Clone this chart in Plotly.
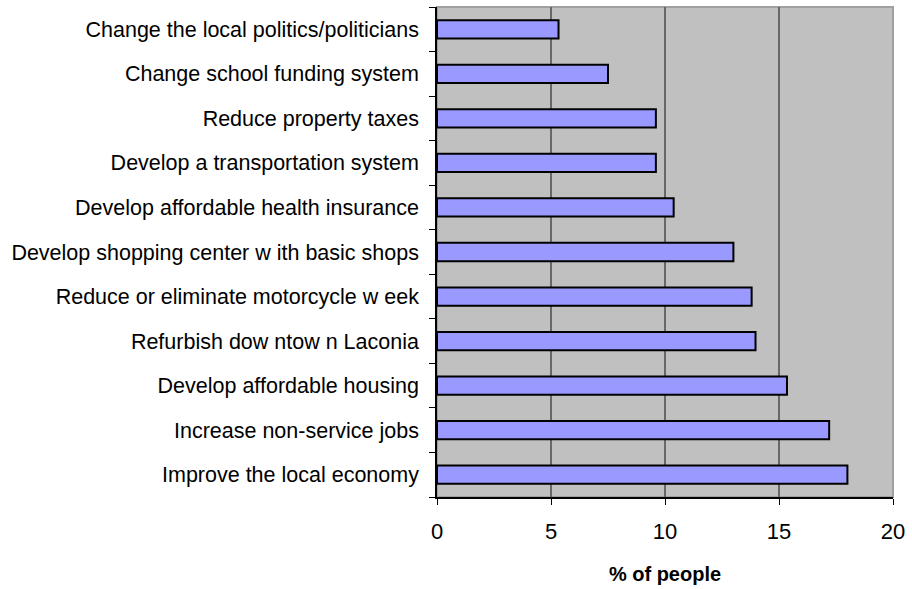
import plotly.graph_objects as go

categories = [
    "Improve the local economy",
    "Increase non-service jobs",
    "Develop affordable housing",
    "Refurbish dow ntow n Laconia",
    "Reduce or eliminate motorcycle w eek",
    "Develop shopping center w ith basic shops",
    "Develop affordable health insurance",
    "Develop a transportation system",
    "Reduce property taxes",
    "Change school funding system",
    "Change the local politics/politicians",
]
values = [18.0, 17.2, 15.35, 13.97, 13.8, 13.0, 10.38, 9.6, 9.6, 7.5, 5.33]
x_ticks = [0, 5, 10, 15, 20]

fig = go.Figure(go.Bar(
    y=categories, x=values, orientation="h",
    marker=dict(color="#9999FF", line=dict(color="#000000", width=2)),
))

fig.update_layout(
    width=912, height=589,
    margin=dict(l=437, r=15, t=7, b=92),
    paper_bgcolor="white", plot_bgcolor="#C0C0C0",
    bargap=0.59, showlegend=False,
    font=dict(family="Liberation Sans, Arial, sans-serif", color="black"),
)
fig.update_xaxes(
    range=[0, 20], tickvals=x_ticks, ticktext=[str(v) for v in x_ticks],
    showgrid=True, gridcolor="#686868", gridwidth=2,
    showline=True, linecolor="black", linewidth=1.5,
    ticks="outside", ticklen=6, tickcolor="black",
    tickfont=dict(size=22), zeroline=False, ticklabelstandoff=8,
    title=dict(text="<b>% of people</b>", font=dict(size=20), standoff=24),
    mirror=False,
)
fig.update_yaxes(
    type="category", categoryorder="array", categoryarray=categories,
    tickson="boundaries", ticks="outside", ticklen=6, tickcolor="black",
    showline=True, linecolor="black", linewidth=1.5,
    tickfont=dict(size=21.5), showgrid=False, ticklabelstandoff=12,
)
# light gray frame on top/right
fig.add_shape(type="rect", xref="paper", yref="paper", x0=0, y0=0, x1=1, y1=1,
              line=dict(color="#A0A0A0", width=2), layer="below")

fig.write_html("out.html")
